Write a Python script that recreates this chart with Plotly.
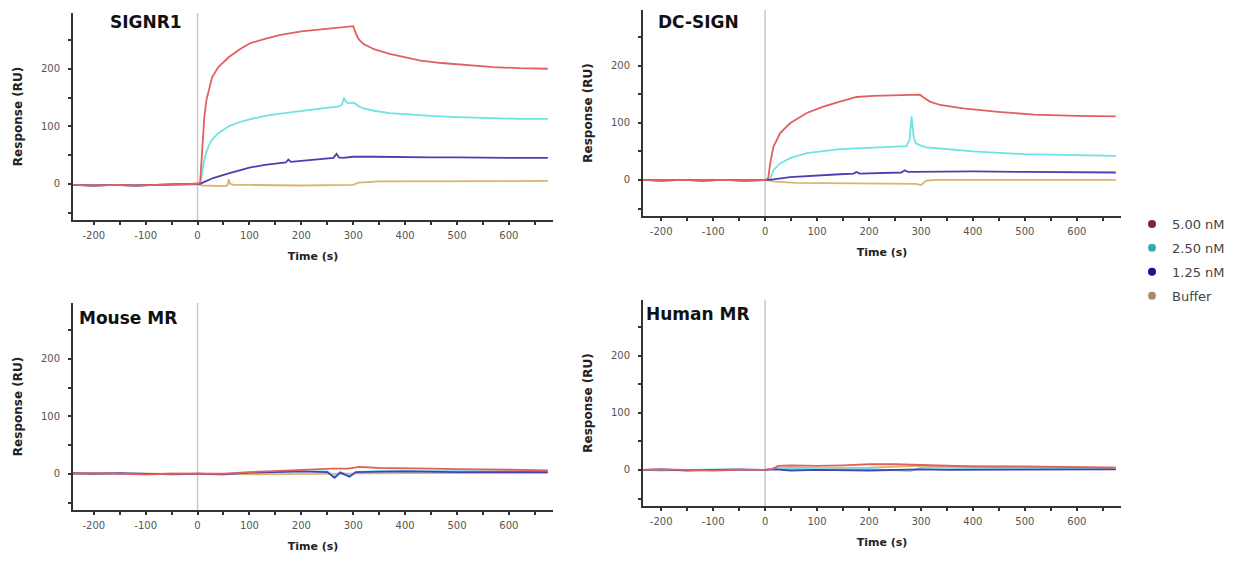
import plotly.graph_objects as go

# ---------------- data ----------------
series_names = ["5.00 nM", "2.50 nM", "1.25 nM", "Buffer"]
panel_titles = ["SIGNR1", "DC-SIGN", "Mouse MR", "Human MR"]

# SIGNR1
signr1_red_t = [-240, -200, -160, -120, -80, -40, 0, 5, 8, 10, 13, 17, 22, 28, 40, 60, 80, 100, 130, 160, 200, 240, 270, 300, 305, 310, 320, 340, 370, 400, 430, 470, 520, 570, 620, 675]
signr1_red_v = [-2, -3, -2, -3, -2, -1, 0, 2, 40, 80, 115, 145, 165, 185, 203, 220, 233, 244, 252, 259, 265, 269, 271, 274, 262, 252, 243, 234, 226, 220, 214, 210, 206, 203, 201, 200]
signr1_cyan_t = [-240, -200, -160, -120, -80, -40, 0, 5, 8, 10, 13, 17, 22, 28, 40, 60, 80, 100, 130, 160, 200, 240, 270, 278, 282, 285, 290, 300, 305, 310, 320, 340, 370, 400, 450, 500, 570, 620, 675]
signr1_cyan_v = [-2, -3, -2, -3, -2, -1, 0, 0, 15, 28, 42, 55, 67, 77, 88, 100, 107, 112, 118, 122, 127, 131, 134, 137, 150, 144, 140, 141, 139, 135, 131, 127, 123, 121, 118, 116, 114, 113, 113]
signr1_blue_t = [-240, -200, -160, -120, -80, -40, 0, 5, 10, 20, 30, 60, 100, 130, 160, 170, 175, 180, 200, 240, 262, 268, 272, 280, 300, 340, 400, 450, 500, 570, 620, 675]
signr1_blue_v = [-2, -3, -2, -3, -2, -1, 0, 0, 2, 6, 10, 18, 28, 33, 36, 37, 42, 38, 40, 43, 45, 52, 46, 45, 47, 47, 46, 46, 46, 45, 45, 45]
signr1_buf_t = [-240, -200, -160, -120, -80, -40, 0, 10, 30, 55, 58, 60, 63, 70, 100, 200, 300, 310, 350, 400, 500, 600, 675]
signr1_buf_v = [-2, -3, -2, -3, -2, -1, -1, -3, -4, -4, -2, 8, 0, -2, -2, -3, -2, 2, 4, 4, 4, 4, 5]

# DC-SIGN
dcsign_red_t = [-235, -200, -160, -120, -80, -40, 0, 6, 10, 16, 29, 48, 80, 112, 144, 176, 208, 240, 298, 305, 317, 337, 381, 449, 518, 600, 675]
dcsign_red_v = [0, -1, 0, -1, 0, -1, 0, 3, 30, 58, 82, 99, 117, 128, 137, 145, 147, 148, 149, 144, 137, 131, 125, 119, 114, 112, 111]
dcsign_cyan_t = [-235, -200, -160, -120, -80, -40, 0, 9, 16, 29, 48, 80, 144, 208, 272, 278, 282, 286, 290, 300, 310, 337, 400, 500, 600, 675]
dcsign_cyan_v = [0, -1, 0, -1, 0, -1, 0, 0, 17, 29, 38, 47, 54, 57, 59, 70, 111, 75, 64, 60, 57, 55, 50, 45, 43, 42]
dcsign_blue_t = [-235, -200, -160, -120, -80, -40, 0, 9, 48, 80, 144, 170, 176, 182, 208, 262, 269, 275, 285, 337, 400, 500, 600, 675]
dcsign_blue_v = [0, -1, 0, -1, 0, -1, 0, 0, 5, 7, 10, 11, 14, 11, 12, 13, 17, 14, 14, 15, 15, 14, 14, 13]
dcsign_buf_t = [-235, -200, -160, -120, -80, -40, 0, 20, 60, 150, 250, 290, 300, 310, 330, 400, 500, 600, 675]
dcsign_buf_v = [0, -1, 0, -1, 0, -1, 0, -3, -5, -6, -6, -7, -9, -1, 0, 0, 0, 0, 0]

# Mouse MR
mouse_red_t = [-240, -200, -150, -100, -50, 0, 50, 100, 150, 200, 230, 260, 290, 312, 350, 400, 450, 500, 550, 600, 675]
mouse_red_v = [0, 1, 0, -1, 0, 0, 0, 3, 5, 7, 9, 9, 9, 12, 10, 10, 9, 8, 8, 7, 6]
mouse_cyan_t = [-240, -200, -150, -100, -50, 0, 50, 100, 150, 200, 250, 264, 275, 293, 305, 350, 400, 500, 600, 675]
mouse_cyan_v = [0, 1, 0, -1, 0, 0, -1, 1, 3, 4, 4, -4, 3, -3, 3, 5, 5, 4, 4, 4]
mouse_blue_t = [-240, -200, -150, -100, -50, 0, 50, 100, 150, 200, 250, 264, 275, 293, 305, 350, 400, 500, 600, 675]
mouse_blue_v = [1, 0, 1, 0, -1, 0, -1, 2, 3, 4, 3, -7, 2, -5, 3, 4, 4, 3, 3, 3]
mouse_buf_t = [-240, -200, -150, -100, -50, 0, 100, 200, 300, 400, 500, 675]
mouse_buf_v = [0, 0, 1, 0, 0, 0, -1, 0, 1, 1, 1, 1]

# Human MR
human_red_t = [-235, -200, -150, -100, -50, 0, 15, 25, 50, 100, 150, 200, 250, 290, 320, 400, 500, 600, 675]
human_red_v = [0, 1, 0, -1, 0, 0, 2, 7, 8, 7, 8, 10, 10, 9, 7, 6, 6, 5, 4]
human_cyan_t = [-235, -200, -150, -100, -50, 0, 20, 50, 100, 150, 200, 250, 280, 300, 350, 400, 500, 600, 675]
human_cyan_v = [0, -1, 0, 1, 0, 0, 3, 2, 2, 1, 2, -1, -2, 4, 3, 3, 3, 3, 3]
human_blue_t = [-235, -200, -150, -100, -50, 0, 20, 50, 100, 200, 300, 350, 400, 500, 600, 675]
human_blue_v = [0, 1, -1, 0, 1, 0, 1, -1, 0, -1, 1, 0, 0, 1, 1, 1]
human_buf_t = [-235, -200, -150, -100, -50, 0, 20, 50, 100, 200, 300, 350, 400, 500, 600, 675]
human_buf_v = [0, 0, 1, 0, 0, 0, 3, 5, 3, 4, 7, 6, 6, 5, 5, 4]

x_tickvals = [-200, -100, 0, 100, 200, 300, 400, 500, 600]
x_ticktext = ["-200", "-100", "0", "100", "200", "300", "400", "500", "600"]
y_tickvals = [0, 100, 200]
y_ticktext = ["0", "100", "200"]

# ---------------- styling ----------------
line_colors = ["#e2605e", "#6fe3e3", "#4b3fb4", "#dcb56c"]
legend_colors = ["#7d2444", "#3aa9a9", "#15159a", "#a68d6d"]

panels = [
    dict(data=[(signr1_buf_t, signr1_buf_v), (signr1_cyan_t, signr1_cyan_v), (signr1_blue_t, signr1_blue_v), (signr1_red_t, signr1_red_v)],
         xd=[73 / 1247, 553 / 1247], yd=[1 - 220 / 563, 1 - 13 / 563], xr=[-240, 685], tx=108 / 1247, ty=1 - 22 / 563),
    dict(data=[(dcsign_buf_t, dcsign_buf_v), (dcsign_cyan_t, dcsign_cyan_v), (dcsign_blue_t, dcsign_blue_v), (dcsign_red_t, dcsign_red_v)],
         xd=[643 / 1247, 1121 / 1247], yd=[1 - 216 / 563, 1 - 10 / 563], xr=[-235, 685], tx=656 / 1247, ty=1 - 22 / 563),
    dict(data=[(mouse_buf_t, mouse_buf_v), (mouse_cyan_t, mouse_cyan_v), (mouse_blue_t, mouse_blue_v), (mouse_red_t, mouse_red_v)],
         xd=[73 / 1247, 553 / 1247], yd=[1 - 510 / 563, 1 - 303 / 563], xr=[-240, 685], tx=77 / 1247, ty=1 - 318 / 563),
    dict(data=[(human_buf_t, human_buf_v), (human_cyan_t, human_cyan_v), (human_blue_t, human_blue_v), (human_red_t, human_red_v)],
         xd=[643 / 1247, 1121 / 1247], yd=[1 - 506 / 563, 1 - 300 / 563], xr=[-235, 685], tx=644 / 1247, ty=1 - 314 / 563),
]
order_colors = [line_colors[3], line_colors[1], line_colors[2], line_colors[0]]

fig = go.Figure()
layout = dict(
    width=1247, height=563, margin=dict(l=0, r=0, t=0, b=0),
    paper_bgcolor="white", plot_bgcolor="white",
    font=dict(family="DejaVu Sans", color="#333"),
    showlegend=True,
    legend=dict(x=1132 / 1247, y=1 - 209 / 563, xanchor="left", yanchor="top",
                font=dict(size=13, color="#444", family="DejaVu Sans"),
                tracegroupgap=4, bgcolor="rgba(0,0,0,0)"),
)
annotations = []
shapes = []
for i, p in enumerate(panels):
    sfx = "" if i == 0 else str(i + 1)
    xa, ya = "x" + sfx, "y" + sfx
    for (t, v), c in zip(p["data"], order_colors):
        fig.add_trace(go.Scatter(x=t, y=v, mode="lines", line=dict(color=c, width=1.8),
                                 xaxis=xa, yaxis=ya, showlegend=False, hoverinfo="skip"))
    axis_common = dict(showline=True, linecolor="#333", linewidth=2, showgrid=False, zeroline=False,
                       ticks="outside", ticklen=3, tickwidth=2, tickcolor="#333",
                       tickfont=dict(size=10, color="#555", family="DejaVu Sans"))
    layout["xaxis" + sfx] = dict(axis_common, domain=p["xd"], range=p["xr"], anchor=ya,
                                 tickvals=x_tickvals, ticktext=x_ticktext, ticklabelstandoff=2,
                                 minor=dict(dtick=50, tick0=0, ticks="outside", ticklen=3, tickwidth=2, tickcolor="#333"),
                                 title=dict(text="<b>Time (s)</b>", font=dict(size=11, color="#222"), standoff=12))
    layout["yaxis" + sfx] = dict(axis_common, domain=p["yd"], range=[-63, 297], anchor=xa,
                                 tickvals=y_tickvals, ticktext=y_ticktext, ticklabelstandoff=6,
                                 minor=dict(dtick=50, tick0=0, ticks="outside", ticklen=3, tickwidth=2, tickcolor="#333"),
                                 title=dict(text="<b>Response (RU)</b>", font=dict(size=12, color="#222"), standoff=16))
    shapes.append(dict(type="line", xref=xa, yref=ya + " domain", x0=0, x1=0, y0=0, y1=1,
                       line=dict(color="#c8c8c8", width=1.5), layer="below"))
    annotations.append(dict(text="<b>" + panel_titles[i] + "</b>", xref="paper", yref="paper",
                            x=p["tx"], y=p["ty"], xanchor="left", yanchor="middle", showarrow=False,
                            font=dict(size=17, color="#111", family="DejaVu Sans")))

for k, (name, col) in enumerate(zip(series_names, legend_colors)):
    fig.add_trace(go.Scatter(x=[None], y=[None], mode="markers", name=name, legendgroup=name,
                             marker=dict(color=col, size=8), xaxis="x", yaxis="y"))

layout["annotations"] = annotations
layout["shapes"] = shapes
fig.update_layout(**layout)
fig.write_html("out.html")
